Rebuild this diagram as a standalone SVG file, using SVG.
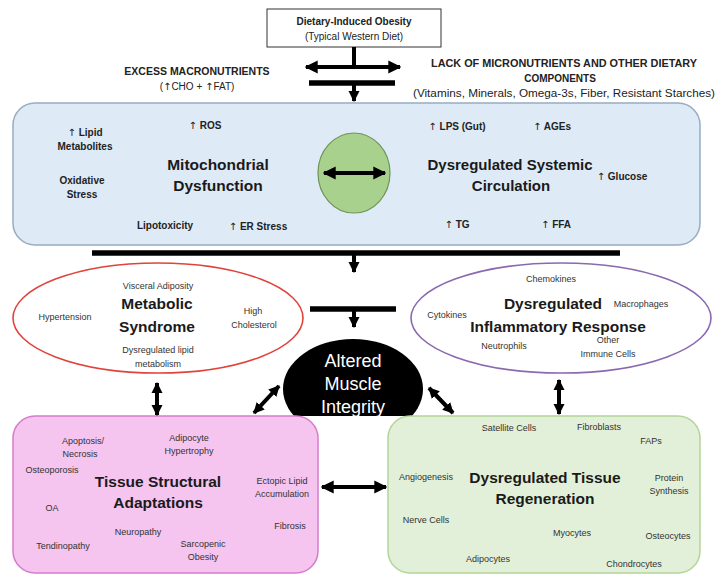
<svg xmlns="http://www.w3.org/2000/svg" width="716" height="576" viewBox="0 0 716 576">
<style>
text{font-family:"Liberation Sans",Arial,sans-serif;fill:#222;text-anchor:middle}
.h{font-size:15.5px;font-weight:bold;fill:#1a1a1a}
.sb{font-size:10px;font-weight:bold}
.s{font-size:9px;fill:#333}
.cap{font-size:10px;font-weight:bold}
.w{font-size:18px;fill:#fff}
.u{font-family:"DejaVu Sans",sans-serif;font-weight:normal}
.ln{stroke:#000;stroke-width:4;fill:none}
.bar{stroke:#000;stroke-width:5.5;fill:none}
</style>
<defs>
<marker id="ah" viewBox="0 0 10 10" refX="9" refY="5" markerWidth="13" markerHeight="14" markerUnits="userSpaceOnUse" orient="auto-start-reverse"><path d="M0,0 L10,5 L0,10 z" fill="#000"/></marker>
<marker id="as" viewBox="0 0 10 10" refX="9" refY="5" markerWidth="11" markerHeight="12" markerUnits="userSpaceOnUse" orient="auto-start-reverse"><path d="M0,0 L10,5 L0,10 z" fill="#000"/></marker>
<clipPath id="cut"><rect x="0" y="0" width="716" height="416"/></clipPath>
</defs>
<rect width="716" height="576" fill="#fff"/>

<g id="obesity">
<rect x="267" y="9" width="174" height="38" fill="#fff" stroke="#333" stroke-width="1"/>
<text x="354" y="25" class="cap">Dietary-Induced Obesity</text>
<text x="354" y="40" style="font-size:10px">(Typical Western Diet)</text>
</g>

<g id="excess">
<text x="197" y="75" class="cap" style="font-size:10.5px">EXCESS MACRONUTRIENTS</text>
<text x="197" y="90" style="font-size:10px">(<tspan class="u">↑</tspan>CHO + <tspan class="u">↑</tspan>FAT)</text>
</g>

<g id="lack">
<text x="564" y="67" class="cap" textLength="266" lengthAdjust="spacingAndGlyphs">LACK OF MICRONUTRIENTS AND OTHER DIETARY</text>
<text x="560" y="82" class="cap">COMPONENTS</text>
<text x="564" y="97" style="font-size:10px" textLength="302" lengthAdjust="spacingAndGlyphs">(Vitamins, Minerals, Omega-3s, Fiber, Resistant Starches)</text>
</g>

<g id="systemic">
<rect x="13" y="103" width="687" height="142" rx="22" fill="#deebf7" stroke="#98acc2" stroke-width="1.5"/>
<text x="85" y="136" class="sb"><tspan class="u">↑</tspan> Lipid</text>
<text x="85" y="150" class="sb">Metabolites</text>
<text x="205" y="129" class="sb"><tspan class="u">↑</tspan> ROS</text>
<text x="82" y="184" class="sb">Oxidative</text>
<text x="82" y="198" class="sb">Stress</text>
<text x="218" y="170" class="h">Mitochondrial</text>
<text x="218" y="191" class="h">Dysfunction</text>
<text x="165" y="229" class="sb">Lipotoxicity</text>
<text x="258" y="230" class="sb"><tspan class="u">↑</tspan> ER Stress</text>
<text x="457" y="130" class="sb"><tspan class="u">↑</tspan> LPS (Gut)</text>
<text x="552" y="130" class="sb"><tspan class="u">↑</tspan> AGEs</text>
<text x="510" y="170" class="h" style="font-size:15px">Dysregulated Systemic</text>
<text x="511" y="191" class="h" style="font-size:15px">Circulation</text>
<text x="622" y="180" class="sb"><tspan class="u">↑</tspan> Glucose</text>
<text x="457" y="228" class="sb"><tspan class="u">↑</tspan> TG</text>
<text x="556" y="228" class="sb"><tspan class="u">↑</tspan> FFA</text>
</g>

<g id="link">
<ellipse cx="354" cy="173" rx="36" ry="40" fill="#a9d18e" stroke="#6e9457" stroke-width="1.2"/>
</g>

<g id="metabolic">
<ellipse cx="158" cy="318" rx="145" ry="55" fill="#fff" stroke="#e0433b" stroke-width="1.6"/>
<text x="158" y="289" class="s">Visceral Adiposity</text>
<text x="157" y="309" class="h">Metabolic</text>
<text x="157" y="332" class="h">Syndrome</text>
<text x="65" y="320" class="s">Hypertension</text>
<text x="253" y="314" class="s">High</text>
<text x="254" y="328" class="s">Cholesterol</text>
<text x="158" y="353" class="s">Dysregulated lipid</text>
<text x="158" y="367" class="s">metabolism</text>
</g>

<g id="inflammatory">
<ellipse cx="561" cy="318" rx="150" ry="55" fill="#fff" stroke="#8b69b0" stroke-width="1.6"/>
<text x="551" y="282" class="s">Chemokines</text>
<text x="553" y="309" class="h">Dysregulated</text>
<text x="641" y="307" class="s">Macrophages</text>
<text x="447" y="318" class="s">Cytokines</text>
<text x="558" y="332" class="h">Inflammatory Response</text>
<text x="504" y="349" class="s">Neutrophils</text>
<text x="608" y="343" class="s">Other</text>
<text x="608" y="357" class="s">Immune Cells</text>
</g>

<g id="muscle" clip-path="url(#cut)">
<ellipse cx="353" cy="389" rx="70" ry="50" fill="#000"/>
<text x="353" y="367" class="w">Altered</text>
<text x="353" y="390" class="w">Muscle</text>
<text x="353" y="413" class="w">Integrity</text>
</g>

<g id="structural">
<rect x="13" y="416" width="305" height="157" rx="22" fill="#f5c4ef" stroke="#d67ccc" stroke-width="1.5"/>
<text x="83" y="444" class="s">Apoptosis/</text>
<text x="80" y="457" class="s">Necrosis</text>
<text x="189" y="441" class="s">Adipocyte</text>
<text x="189" y="454" class="s">Hypertrophy</text>
<text x="52" y="473" class="s">Osteoporosis</text>
<text x="158" y="487" class="h">Tissue Structural</text>
<text x="158" y="508" class="h">Adaptations</text>
<text x="282" y="484" class="s">Ectopic Lipid</text>
<text x="282" y="497" class="s">Accumulation</text>
<text x="52" y="511" class="s">OA</text>
<text x="290" y="529" class="s">Fibrosis</text>
<text x="138" y="535" class="s">Neuropathy</text>
<text x="63" y="549" class="s">Tendinopathy</text>
<text x="203" y="547" class="s">Sarcopenic</text>
<text x="203" y="560" class="s">Obesity</text>
</g>

<g id="regeneration">
<rect x="388" y="416" width="312" height="157" rx="22" fill="#e2f0d9" stroke="#b3d59a" stroke-width="1.5"/>
<text x="509" y="431" class="s">Satellite Cells</text>
<text x="599" y="430" class="s">Fibroblasts</text>
<text x="651" y="444" class="s">FAPs</text>
<text x="426" y="480" class="s">Angiogenesis</text>
<text x="545" y="483" class="h">Dysregulated Tissue</text>
<text x="545" y="504" class="h">Regeneration</text>
<text x="669" y="481" class="s">Protein</text>
<text x="669" y="494" class="s">Synthesis</text>
<text x="426" y="523" class="s">Nerve Cells</text>
<text x="572" y="536" class="s">Myocytes</text>
<text x="668" y="539" class="s">Osteocytes</text>
<text x="488" y="562" class="s">Adipocytes</text>
<text x="634" y="567" class="s">Chondrocytes</text>
</g>

<g id="connectors">
<line x1="354" y1="47" x2="354" y2="68" class="ln"/>
<line x1="306" y1="67" x2="400" y2="67" class="ln" marker-start="url(#ah)" marker-end="url(#ah)"/>
<line x1="309" y1="83" x2="395" y2="83" class="bar"/>
<line x1="354" y1="83" x2="354" y2="101" class="ln" marker-end="url(#as)"/>
<line x1="324" y1="173" x2="385" y2="173" class="ln" marker-start="url(#ah)" marker-end="url(#ah)"/>
<line x1="92" y1="253" x2="620" y2="253" class="bar"/>
<line x1="354" y1="253" x2="354" y2="272" class="ln" marker-end="url(#as)"/>
<line x1="310" y1="309" x2="396" y2="309" class="bar"/>
<line x1="354" y1="309" x2="354" y2="327" class="ln" marker-end="url(#as)"/>
<line x1="157" y1="383" x2="157" y2="415" class="ln" marker-start="url(#as)" marker-end="url(#as)"/>
<line x1="559" y1="380" x2="559" y2="414" class="ln" marker-start="url(#as)" marker-end="url(#as)"/>
<line x1="279" y1="386" x2="254" y2="413" class="ln" marker-start="url(#as)" marker-end="url(#as)"/>
<line x1="429" y1="388" x2="453" y2="413" class="ln" marker-start="url(#as)" marker-end="url(#as)"/>
<line x1="322" y1="487" x2="386" y2="487" class="ln" marker-start="url(#ah)" marker-end="url(#ah)"/>
</g>
</svg>
